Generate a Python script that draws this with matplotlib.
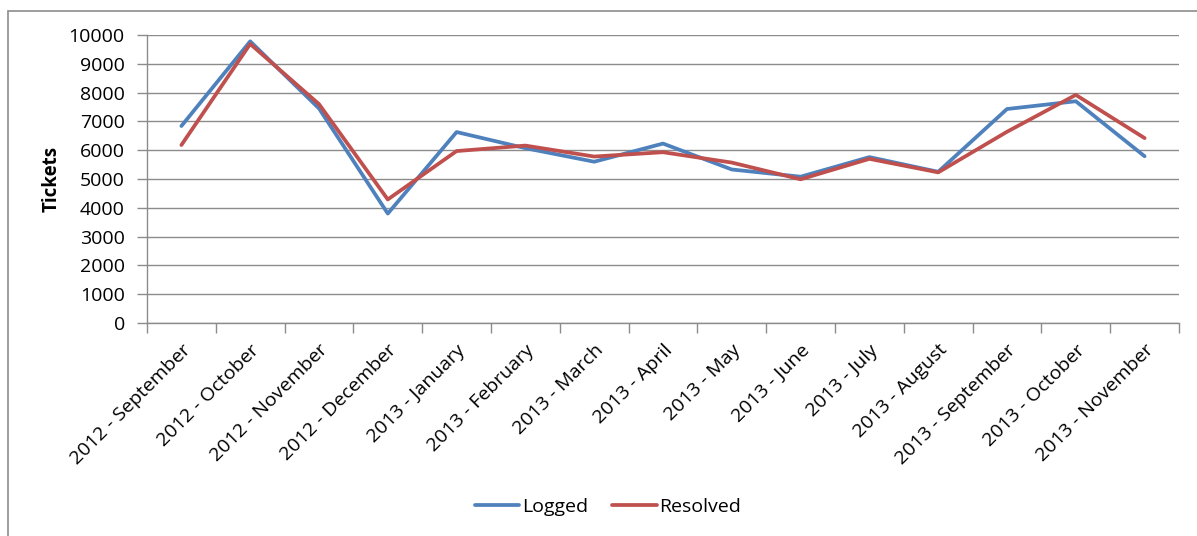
import matplotlib
matplotlib.use("Agg")
import matplotlib.pyplot as plt
from matplotlib.patches import Rectangle
import numpy as np

plt.rcParams['font.family'] = ['Open Sans', 'DejaVu Sans']

months = ["2012 - September", "2012 - October", "2012 - November", "2012 - December",
          "2013 - January", "2013 - February", "2013 - March", "2013 - April",
          "2013 - May", "2013 - June", "2013 - July", "2013 - August",
          "2013 - September", "2013 - October", "2013 - November"]
logged = [6840, 9780, 7450, 3800, 6630, 6070, 5600, 6230, 5330, 5080, 5760, 5250, 7430, 7700, 5790]
resolved = [6180, 9690, 7600, 4290, 5970, 6160, 5780, 5930, 5570, 4990, 5700, 5230, 6640, 7920, 6420]

grid_col = "#8c8c8c"
fs = 14

fig = plt.figure(figsize=(11.97, 5.36), dpi=100)
ax = fig.add_axes([147/1197, 1 - 323/536, (1179 - 147)/1197, (323 - 35)/536])

x = np.arange(len(months))
ax.plot(x, logged, color="#4F81BD", lw=2.7, label="Logged", solid_capstyle='round', solid_joinstyle='round')
ax.plot(x, resolved, color="#C0504D", lw=2.7, label="Resolved", solid_capstyle='round', solid_joinstyle='round')

ax.set_xlim(-0.5, len(months) - 0.5)
ax.set_ylim(0, 10000)
ax.set_yticks(np.arange(0, 10001, 1000))
ax.yaxis.grid(True, color=grid_col, lw=1)
ax.set_axisbelow(True)

ax.set_xticks(x)
ax.set_xticklabels(months, rotation=45, ha='right', rotation_mode='anchor', fontsize=fs)
ax.set_xticks(np.arange(-0.5, len(months)), minor=True)
ax.tick_params(axis='x', which='major', length=0, pad=13)
ax.tick_params(axis='x', which='minor', length=7, color=grid_col, width=1)
ax.tick_params(axis='y', length=7, color=grid_col, width=1, labelsize=fs, pad=9)

for s in ["top", "right"]:
    ax.spines[s].set_visible(False)
for s in ["left", "bottom"]:
    ax.spines[s].set_color(grid_col)
    ax.spines[s].set_linewidth(1)

ax.set_ylabel("Tickets", fontsize=13.5, fontweight='bold', labelpad=5)

leg = fig.legend(loc='center', bbox_to_anchor=(608/1197, 1 - 507/536),
                 ncol=2, frameon=False, fontsize=fs, handlelength=2.3, handletextpad=0.15,
                 columnspacing=1.2)

fig.patches.append(Rectangle((8/1197, -0.1), 1.2, 1 - 11/536 + 0.1, transform=fig.transFigure,
                             fill=False, edgecolor="#8c8c8c", lw=1.2))

fig.savefig("out.png", dpi=100)
